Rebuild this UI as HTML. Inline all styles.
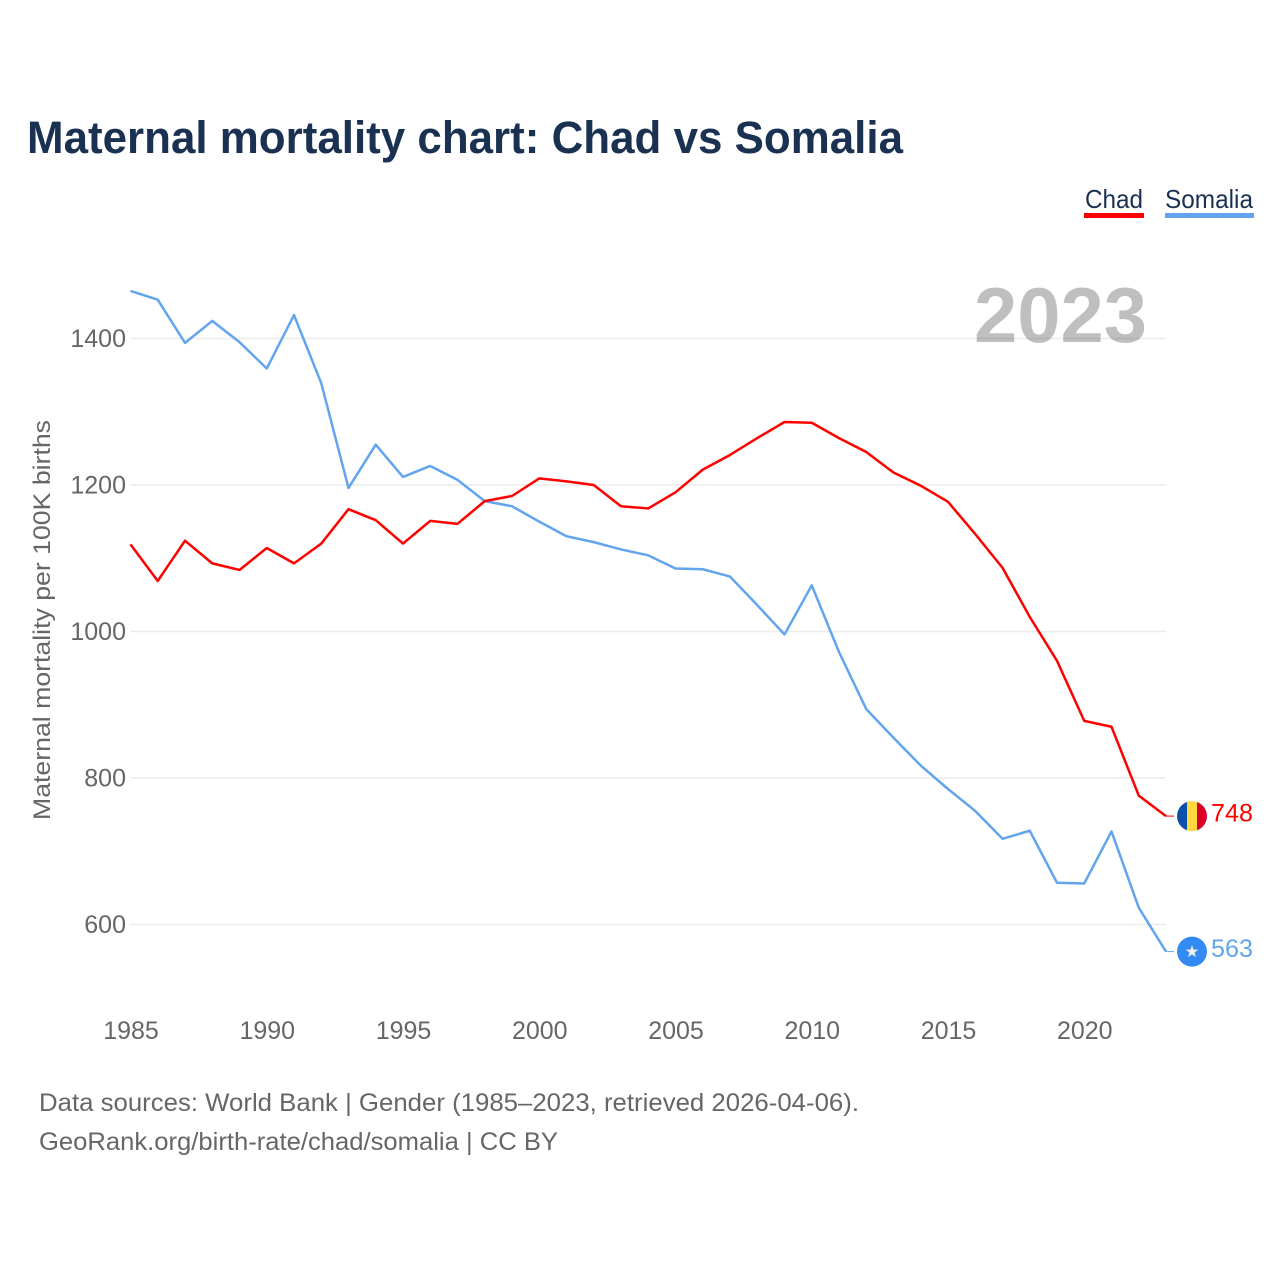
<!DOCTYPE html>
<html lang="en">
<head>
<meta charset="utf-8">
<title>Maternal mortality chart: Chad vs Somalia</title>
<style>
html,body{margin:0;padding:0;background:#fff;}
svg{display:block;font-family:"Liberation Sans",sans-serif;}
</style>
</head>
<body>
<svg id="chart" xmlns="http://www.w3.org/2000/svg" width="1280" height="1280" viewBox="0 0 1280 1280">
  <rect width="1280" height="1280" fill="#fff"/>
  <text x="27" y="153" font-size="45" font-weight="700" fill="#1a3152" textLength="876" lengthAdjust="spacingAndGlyphs">Maternal mortality chart: Chad vs Somalia</text>

  <g>
    <g>
      <text x="1085" y="208" font-size="26" fill="#1a3152" textLength="58" lengthAdjust="spacingAndGlyphs">Chad</text>
      <rect x="1084" y="213" width="60" height="5" fill="#ff0000"/>
    </g>
    <g>
      <text x="1165" y="208" font-size="26" fill="#1a3152" textLength="88" lengthAdjust="spacingAndGlyphs">Somalia</text>
      <rect x="1165" y="213" width="89" height="5" fill="#62a5ee"/>
    </g>
  </g>

  <g id="grid"></g>
  <g id="yticks"></g>
  <g id="xticks"></g>

  <text x="974" y="342" font-size="78" font-weight="700" fill="#000" fill-opacity="0.25" textLength="173" lengthAdjust="spacingAndGlyphs">2023</text>

  <text transform="translate(50,820) rotate(-90)" font-size="24" fill="#666" textLength="400" lengthAdjust="spacingAndGlyphs">Maternal mortality per 100K births</text>

  <g id="series"></g>

  <g id="chad-end">
    <clipPath id="flag-clip"><circle cx="0" cy="0" r="15"/></clipPath>
    <g clip-path="url(#flag-clip)">
      <rect x="-15" y="-15" width="10" height="30" fill="#0a4fa8"/>
      <rect x="-5" y="-15" width="10" height="30" fill="#ffd83d"/>
      <rect x="5" y="-15" width="10" height="30" fill="#d80027"/>
    </g>
  </g>
  <g id="somalia-end">
    <circle cx="0" cy="0" r="15" fill="#338af3"/>
    <polygon points="0,-6.5 1.6,-2 6.4,-2 2.5,0.9 3.9,5.5 0,2.8 -3.9,5.5 -2.5,0.9 -6.4,-2 -1.6,-2" fill="#f0f0f0"/>
  </g>
  <text id="chad-value" x="1211" font-size="25" fill="#ff0000" textLength="42" lengthAdjust="spacingAndGlyphs"></text>
  <text id="somalia-value" x="1211" font-size="25" fill="#62a5ee" textLength="42" lengthAdjust="spacingAndGlyphs"></text>

  <text x="39" y="1111" font-size="25" fill="#666" textLength="820" lengthAdjust="spacingAndGlyphs">Data sources: World Bank | Gender (1985–2023, retrieved 2026-04-06).</text>
  <text x="39" y="1150" font-size="25" fill="#666" textLength="519" lengthAdjust="spacingAndGlyphs">GeoRank.org/birth-rate/chad/somalia | CC BY</text>
</svg>
<script>
const startYear = 1985;
const endYear = 2023;
const yTickValues = [600, 800, 1000, 1200, 1400];
const xTickValues = [1985, 1990, 1995, 2000, 2005, 2010, 2015, 2020];
const chadValues = [1119, 1069, 1124, 1093, 1084, 1114, 1093, 1120, 1167, 1152, 1120, 1151, 1147, 1178, 1185, 1209, 1205, 1200, 1171, 1168, 1190, 1221, 1241, 1264, 1286, 1285, 1264, 1245, 1217, 1199, 1177, 1133, 1087, 1020, 960, 878, 870, 776, 748];
const somaliaValues = [1465, 1453, 1394, 1424, 1395, 1359, 1432, 1339, 1196, 1255, 1211, 1226, 1207, 1178, 1171, 1150, 1130, 1122, 1112, 1104, 1086, 1085, 1075, 1036, 996, 1063, 972, 894, 855, 817, 785, 755, 717, 728, 657, 656, 727, 623, 563];

const NS = 'http://www.w3.org/2000/svg';
const xLeft = 130.5, xRight = 1166;
const xScale = year => xLeft + (year - startYear) * (xRight - xLeft) / (endYear - startYear);
const yScale = value => 338.5 + (1400 - value) * 0.7325;

const gridGroup = document.getElementById('grid');
const yTickGroup = document.getElementById('yticks');
const xTickGroup = document.getElementById('xticks');
const seriesGroup = document.getElementById('series');

yTickValues.forEach(function (value) {
  const line = document.createElementNS(NS, 'line');
  
  
  line.setAttribute('x1', xLeft);
  line.setAttribute('x2', xRight);
  line.setAttribute('y1', yScale(value));
  line.setAttribute('y2', yScale(value));
  line.setAttribute('stroke', '#ececec');
  line.setAttribute('stroke-width', '1.5');
  gridGroup.appendChild(line);

  const label = document.createElementNS(NS, 'text');
  
  
  label.setAttribute('x', 126);
  label.setAttribute('y', yScale(value) + 8.5);
  label.setAttribute('text-anchor', 'end');
  label.setAttribute('font-size', '25');
  label.setAttribute('fill', '#666');
  label.textContent = value;
  yTickGroup.appendChild(label);
});

xTickValues.forEach(function (year) {
  const label = document.createElementNS(NS, 'text');
  
  
  label.setAttribute('x', xScale(year) + 0.5);
  label.setAttribute('y', 1039);
  label.setAttribute('text-anchor', 'middle');
  label.setAttribute('font-size', '25');
  label.setAttribute('fill', '#666');
  label.textContent = year;
  xTickGroup.appendChild(label);
});

function drawSeries(values, color, key) {
  const points = values.map(function (value, i) {
    return xScale(startYear + i).toFixed(2) + ',' + yScale(value).toFixed(2);
  });
  const last = values[values.length - 1];
  const line = document.createElementNS(NS, 'polyline');
  
  
  line.setAttribute('points', points.join(' '));
  line.setAttribute('fill', 'none');
  line.setAttribute('stroke', color);
  line.setAttribute('stroke-width', '2.5');
  line.setAttribute('stroke-linejoin', 'round');
  seriesGroup.appendChild(line);

  const endY = yScale(last);
  const stub = document.createElementNS(NS, 'line');
  
  
  stub.setAttribute('x1', xRight);
  stub.setAttribute('x2', 1174);
  stub.setAttribute('y1', endY);
  stub.setAttribute('y2', endY);
  stub.setAttribute('stroke', color);
  stub.setAttribute('stroke-width', '1');
  seriesGroup.appendChild(stub);

  document.getElementById(key + '-end').setAttribute('transform', 'translate(1192,' + endY.toFixed(2) + ')');
  const valueLabel = document.getElementById(key + '-value');
  valueLabel.setAttribute('y', (endY + 5.5).toFixed(2));
  valueLabel.textContent = last;
}

drawSeries(somaliaValues, '#62a5ee', 'somalia');
drawSeries(chadValues, '#ff0000', 'chad');
</script>
</body>
</html>
